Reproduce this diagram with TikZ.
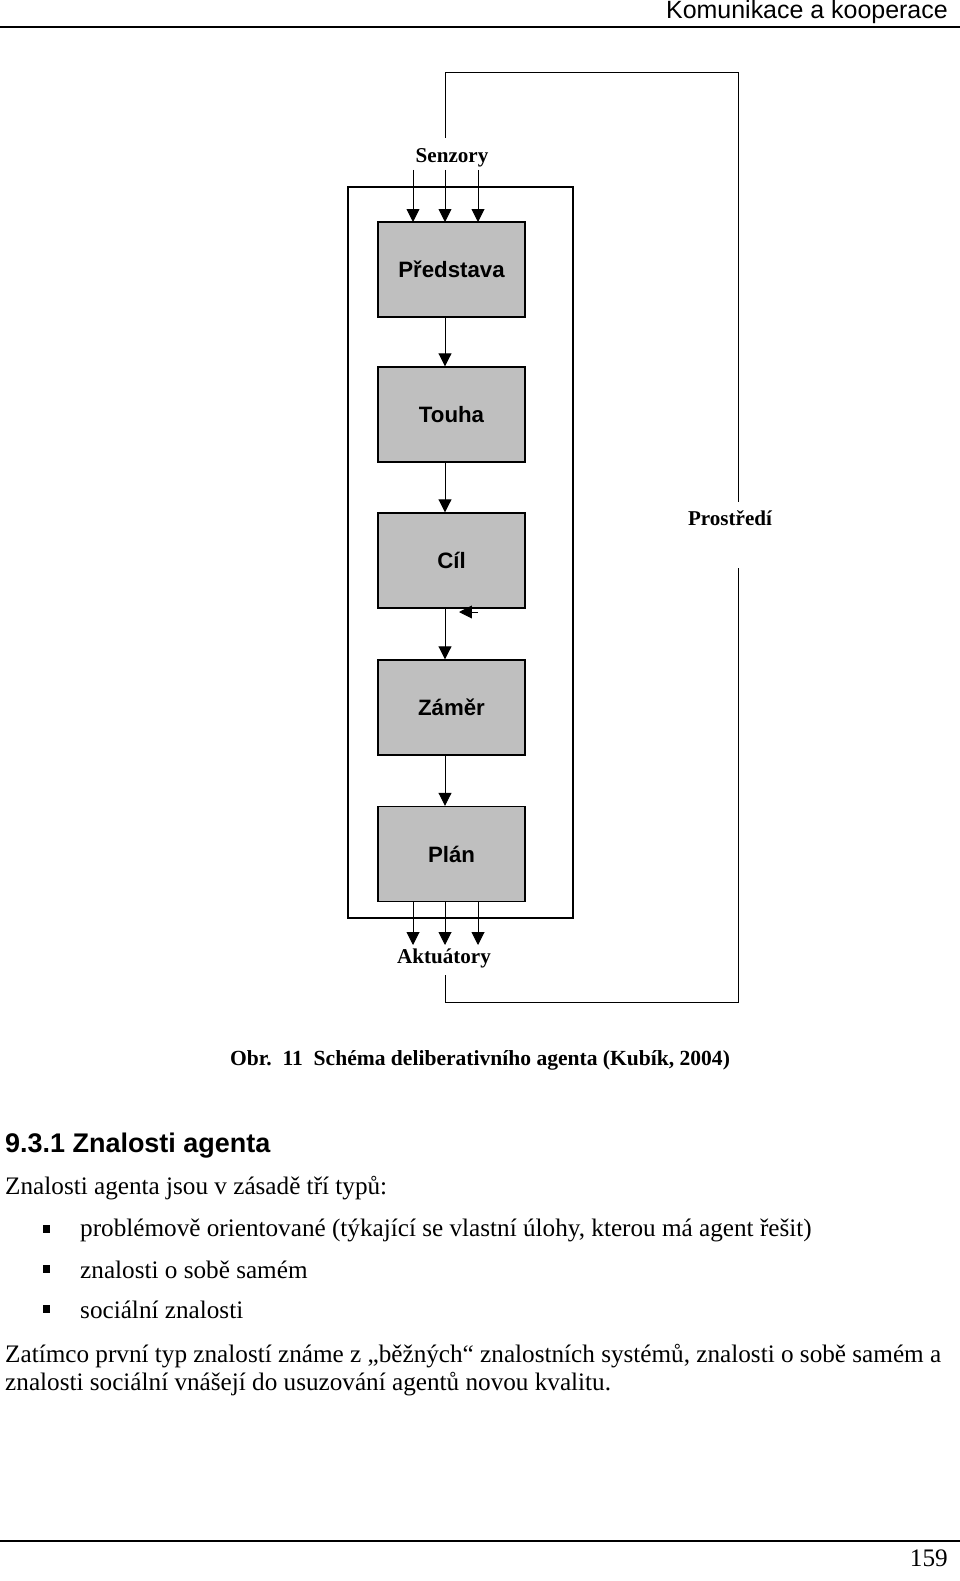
\documentclass[tikz,border=0pt]{standalone}
\usepackage{fontspec}
\setmainfont{Liberation Serif}
\newfontfamily\arialf{Liberation Sans}
\usetikzlibrary{arrows.meta}
\begin{document}
\begin{tikzpicture}[x=0.03cm,y=-0.03cm,
  blk/.style={draw,line width=1.2pt,fill=gray!50,minimum width=147*0.03cm,minimum height=95*0.03cm,font=\arialf\bfseries\fontsize{19}{22}\selectfont},
  arr/.style={line width=0.8pt,-{Triangle[width=11pt,length=11pt]}},
  ln/.style={line width=0.8pt},
  lab/.style={font=\bfseries\fontsize{18}{20}\selectfont,inner sep=0pt},
  body/.style={anchor=west,inner sep=0pt,font=\fontsize{21.5}{24}\selectfont}]
\useasboundingbox (0,0) rectangle (960,1581);
% header/footer
\node[anchor=east,inner sep=0pt,font=\arialf\fontsize{21.3}{24}\selectfont] (hdr) at (948,12) {Komunikace a kooperace};
\draw[line width=0.9pt] (0,27) -- (960,27);
\draw[line width=0.9pt] (0,1541) -- (960,1541);
\node[anchor=east,inner sep=0pt,font=\fontsize{21.5}{24}\selectfont] (pg) at (948,1558) {159};
% outer loop
\node[lab] (sen) at (452,158) {Senzory};
\node[lab] (akt) at (444,958) {Aktuátory};
\node[lab] (pro) at (730,518) {Prostředí};
\coordinate (pt) at (738,502);
\coordinate (pb) at (738,568);
\coordinate (st) at (445,138);
\coordinate (ab) at (445,975);
\draw[ln] (st) -- (445,72) -- (738,72) -- (pt);
\draw[ln] (pb) -- (738,1002) -- (445,1002) -- (ab);
% inner frame
\draw[line width=1.2pt] (348,187) rectangle (573,918);
% blocks
\node[blk] (p) at (451.5,269.5) {Představa};
\node[blk] (t) at (451.5,414.5) {Touha};
\node[blk] (c) at (451.5,560.5) {Cíl};
\node[blk] (z) at (451.5,707.5) {Záměr};
\node[blk] (pl) at (451.5,854) {Plán};
\foreach \x in {413,445,478}{
  \draw[arr] (\x,170) -- (\x,222);
  \draw[arr] (\x,902) -- (\x,945);
}
\draw[arr] (p.south -| 445,0) -- (t.north -| 445,0);
\draw[arr] (t.south -| 445,0) -- (c.north -| 445,0);
\draw[arr] (c.south -| 445,0) -- (z.north -| 445,0);
\draw[arr] (z.south -| 445,0) -- (pl.north -| 445,0);
\coordinate (cr) at (478,612);
\draw[arr] (cr) -- (459,612);
% caption and text
\node[anchor=center,inner sep=0pt,font=\bfseries\fontsize{18.4}{21}\selectfont] (cap) at (480,1060) {Obr.\ \ 11\ \ Schéma deliberativního agenta (Kubík, 2004)};
\node[anchor=west,inner sep=0pt,font=\arialf\bfseries\fontsize{23}{26}\selectfont] (h) at (5,1146) {9.3.1 Znalosti agenta};
\node[body] (l1) at (5,1188) {Znalosti agenta jsou v zásadě tří typů:};
\foreach \y/\t in {1230/{problémově orientované (týkající se vlastní úlohy, kterou má agent řešit)},1270/{znalosti o sobě samém},1310/{sociální znalosti}}{
  \fill (43,\y-5) rectangle (50,\y+3);
  \node[body] at (80,\y) {\t};
}
\node[body] (l2) at (5,1356) {Zatímco první typ znalostí známe z „běžných“ znalostních systémů, znalosti o sobě samém a};
\node[body] (l3) at (5,1384) {znalosti sociální vnášejí do usuzování agentů novou kvalitu.};
\end{tikzpicture}
\end{document}
